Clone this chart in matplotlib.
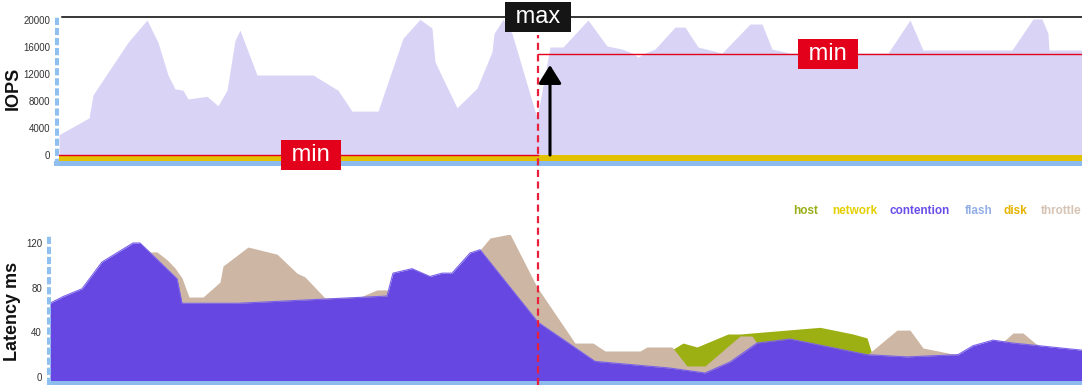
import matplotlib
matplotlib.use("Agg")
import matplotlib.pyplot as plt
import numpy as np
from matplotlib.lines import Line2D
from matplotlib.transforms import blended_transform_factory

plt.rcParams["font.family"] = ["Liberation Sans", "DejaVu Sans"]

# time axis (sample positions) and IOPS
iops_t = [59, 89, 93, 128, 147, 158, 168, 175, 183, 188, 207, 218, 227, 235, 240, 257,
          313, 338, 352, 378, 403, 420, 432, 435, 457, 477, 492, 494, 503, 512, 537,
          550, 563, 588, 607, 622, 632, 638, 645, 655, 675, 685, 698, 722, 750, 762,
          772, 790, 888, 910, 923, 1012, 1033, 1042, 1048, 1049, 1082]
iops = [3000, 5500, 8900, 16700, 20000, 16700, 11850, 9800, 9600, 8300, 8700, 7300, 9600,
        17000, 18500, 11850, 11850, 9600, 6500, 6500, 17300, 20100, 18800, 13800, 7000,
        9900, 15300, 18000, 20100, 18000, 5500, 16000, 16000, 20000, 16150, 15700, 15100,
        14500, 15100, 15700, 18950, 18950, 16000, 15100, 19400, 19400, 15700, 15100,
        15100, 20000, 15550, 15550, 20150, 20150, 18000, 15550, 15550]

t_start, t_end = 59, 1082
event_t = 538
max_iops = 20450
min_before = 0
min_after = 15000

# latency (ms), stacked layers given as cumulative top edges
cont_t = [50, 63, 82, 102, 133, 140, 177, 182, 237, 387, 393, 412, 430, 442, 452, 470, 480,
          538, 595, 670, 705, 730, 757, 790, 867, 907, 958, 973, 993, 1013, 1082]
contention = [66, 72, 79, 103, 120, 120, 88, 66, 66, 72.5, 93, 97, 90, 93, 93, 111, 114,
              49, 14, 8, 3.6, 13.4, 30.4, 34, 20, 18, 20, 28, 33, 30.4, 24]

thr_t = [140, 150, 157, 167, 175, 182, 189, 203, 220, 223, 248, 277, 297, 305, 325,
         360, 377, 387, 391,
         480, 490, 510, 537, 575, 593, 605, 640, 647, 672, 687, 705, 740, 752, 757,
         867, 897, 910, 923, 958,
         1003, 1013, 1023, 1035, 1040]
throttle_top = [120, 112, 112, 105, 97.6, 88.7, 71.6, 71.6, 85, 99.4, 116.4, 110, 93, 89.6, 70.7,
                71.5, 78, 78, 72.5,
                113.7, 124.5, 128, 80.6, 30.4, 30.4, 23.3, 23.3, 26.9, 26.9, 9.9, 9.9, 36.7, 36.7, 30.4,
                19.7, 42, 42, 26, 19.7,
                31.5, 39.4, 39.4, 30.4, 28]
thr_segments = [(0, 19), (19, 34), (34, 39), (39, 44)]

host_t = [673, 683, 697, 728, 740, 820, 853, 867, 872]
host_top = [25, 30.4, 26.9, 38.5, 38.5, 44.5, 38.5, 35, 20.5]

legend_names = ["host", "network", "contention", "flash", "disk", "throttle"]
legend_colors = ["#9aae18", "#e4cf00", "#6a4ee8", "#93afe6", "#e6b400", "#d6c3b3"]
legend_x = [793, 832, 890, 965, 1004, 1041]

c_lav = "#d9d4f6"
c_purple = "#6647e1"
c_tan = "#cdb7a4"
c_green = "#9cb014"
c_disk = "#e2c100"
c_flash = "#8dbbee"
c_red = "#e3001b"

W, H = 1082, 385
fig = plt.figure(figsize=(W / 100, H / 100), dpi=100)


def px_rect(l, t, r, b):
    return [l / W, 1 - b / H, (r - l) / W, (b - t) / H]


def y_from_px(p0, v0, p1, v1, p):
    return v0 + (p - p0) * (v1 - v0) / (p1 - p0)


# ---- IOPS panel
ax1 = fig.add_axes(px_rect(57, 16, 1082, 166))
ax1.set_xlim(57, 1082)
ax1.set_ylim(y_from_px(155, 0, 20, 20000, 166), y_from_px(155, 0, 20, 20000, 16))

ax1.fill_between(iops_t, 0, iops, color=c_lav, lw=0, zorder=1)
ax1.fill_between([t_start, t_end], -850, -50, color=c_disk, lw=0, zorder=2)
ax1.plot([t_start, t_end], [-900, -900], color="#8a8fb0", lw=0.7, zorder=2)
ax1.fill_between([54, t_end], -1700, -950, color=c_flash, lw=0, zorder=2, clip_on=False)

ax1.plot([62, t_end], [max_iops, max_iops], color="black", lw=1.1, zorder=3, clip_on=False)
ax1.plot([t_start, event_t], [min_before, min_before], color=c_red, lw=1, zorder=3)
ax1.plot([event_t, t_end], [min_after, min_after], color=c_red, lw=1, zorder=3)

ax1.annotate("", xy=(550, 13330), xytext=(550, min_before),
             arrowprops=dict(arrowstyle="-|>,head_length=0.8,head_width=0.5",
                             mutation_scale=14, color="black", lw=2.2,
                             shrinkA=0, shrinkB=0), zorder=5)

box_kw = dict(ha="center", va="center", fontsize=17, color="white", zorder=6)
ax1.text(311, min_before, " min ", bbox=dict(boxstyle="square,pad=0.17", fc=c_red, ec="none"), **box_kw)
ax1.text(828, min_after, " min ", bbox=dict(boxstyle="square,pad=0.17", fc=c_red, ec="none"), **box_kw)
ax1.text(event_t, max_iops, " max ", bbox=dict(boxstyle="square,pad=0.17", fc="#151515", ec="none"),
         clip_on=False, **box_kw)

ax1.set_yticks([0, 4000, 8000, 12000, 16000, 20000])
ax1.set_xticks([])

# ---- latency panel
ax2 = fig.add_axes(px_rect(49, 235, 1082, 385))
ax2.set_xlim(49, 1082)
ax2.set_ylim(y_from_px(377, 0, 243, 120, 385), y_from_px(377, 0, 243, 120, 235))

ax2.fill_between(host_t, -3.5, host_top, color=c_green, lw=0, zorder=1)
for a, b in thr_segments:
    ax2.fill_between(thr_t[a:b], -3.5, throttle_top[a:b], color=c_tan, lw=0, zorder=2)
ax2.fill_between(cont_t, -3.5, contention, color=c_purple, lw=0, zorder=3)
ax2.plot(cont_t, contention, color="#7a62ea", lw=0.8, zorder=3)
ax2.fill_between([49, t_end], -8, -3.5, color=c_flash, lw=0, zorder=4)

ax2.set_yticks([0, 40, 80, 120])
ax2.set_xticks([])

for ax in (ax1, ax2):
    for side in ("top", "right", "bottom"):
        ax.spines[side].set_visible(False)
    sp = ax.spines["left"]
    sp.set_color("#8fc0f0")
    sp.set_linewidth(2.9)
    sp.set_linestyle((0, (1.8, 0.7)))
    sp.set_capstyle("butt")
    sp.set_zorder(5)
    ax.tick_params(axis="y", length=0, pad=5, labelsize=7, labelcolor="#333333")
    ax.patch.set_alpha(0)

# event marker crossing both panels
trans = blended_transform_factory(ax1.transData, fig.transFigure)
fig.add_artist(Line2D([event_t, event_t], [0, 1 - 35 / H], transform=trans,
                      color="#e8203c", lw=1.6, linestyle=(0, (3.2, 2)), zorder=4))

fig.text(13 / W, 1 - 88 / H, "IOPS", rotation=90, ha="center", va="center",
         fontsize=13, fontweight="bold", color="#111111")
fig.text(13 / W, 1 - 311 / H, "Latency ms", rotation=90, ha="center", va="center",
         fontsize=13, fontweight="bold", color="#111111")

for name, col, lx in zip(legend_names, legend_colors, legend_x):
    fig.text(lx / W, 1 - 211 / H, name, ha="left", va="center", fontsize=8.5,
             fontweight="bold", color=col)

fig.savefig("out.png", dpi=100)
